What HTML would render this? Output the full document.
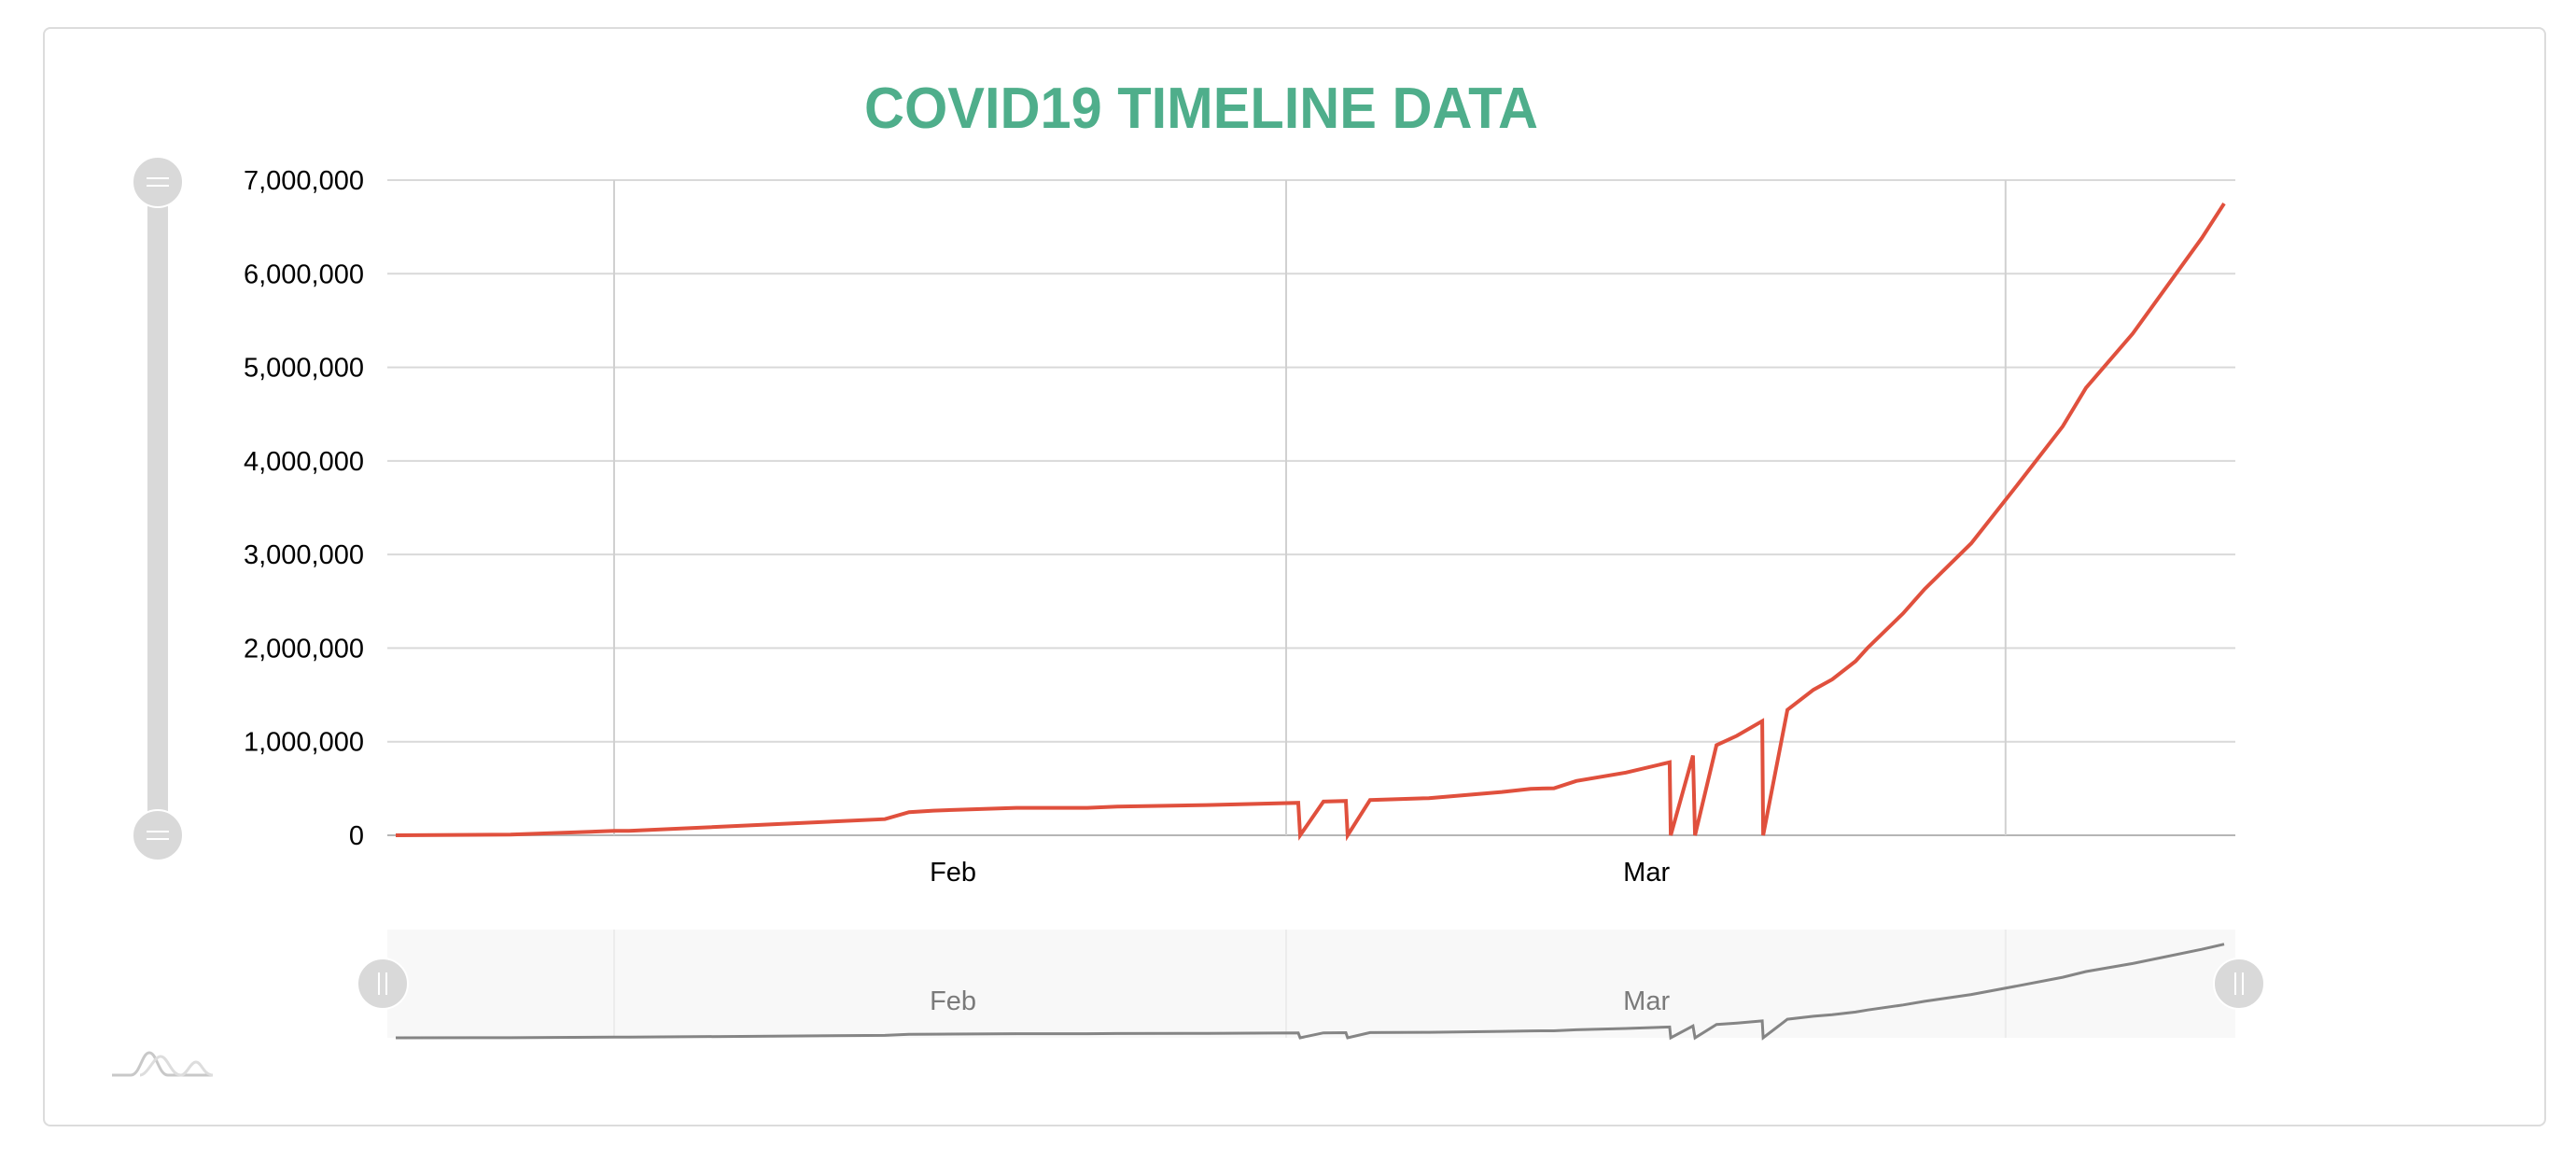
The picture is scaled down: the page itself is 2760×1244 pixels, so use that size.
<!DOCTYPE html>
<html><head><meta charset="utf-8"><style>
html,body{margin:0;padding:0;background:#fff;width:2760px;height:1244px;overflow:hidden}
svg{display:block;font-family:"Liberation Sans",sans-serif}
</style></head><body>
<svg id="chart" width="2760" height="1244" viewBox="0 0 2760 1244">
<rect x="47" y="30" width="2680" height="1176" rx="7" fill="#fff" stroke="#dcdcdc" stroke-width="2"/>
<text x="1287" y="137" text-anchor="middle" font-size="62" font-weight="bold" fill="#4fae8b" textLength="722" lengthAdjust="spacingAndGlyphs">COVID19 TIMELINE DATA</text>
<g id="grid"></g>
<g id="yaxis"></g>
<g id="xaxis"></g>
<g id="series"></g>
<g>
  <rect x="158" y="195" width="22" height="700" fill="#d9d9d9"/>
  <g>
    <circle cx="169" cy="195" r="27" fill="#d9d9d9" stroke="#fff" stroke-width="2"/>
    <line x1="157" y1="191" x2="181" y2="191" stroke="#fff" stroke-width="2"/>
    <line x1="157" y1="199" x2="181" y2="199" stroke="#fff" stroke-width="2"/>
  </g>
  <g>
    <circle cx="169" cy="895" r="27" fill="#d9d9d9" stroke="#fff" stroke-width="2"/>
    <line x1="157" y1="891" x2="181" y2="891" stroke="#fff" stroke-width="2"/>
    <line x1="157" y1="899" x2="181" y2="899" stroke="#fff" stroke-width="2"/>
  </g>
</g>
<g id="nav">
  <rect x="415" y="996" width="1980" height="116" fill="#f8f8f8"/>
</g>
<g fill="none" stroke-width="3">
  <path d="M120 1152 L140 1152 C150 1152 152 1128 160 1128 C168 1128 170 1152 180 1152 L228 1152" stroke="#c8c8c8"/>
  <path d="M150 1152 C158 1152 165 1132 172 1132 C180 1132 183 1152 194 1152 C200 1152 204 1138 210 1138 C216 1138 218 1152 228 1152" stroke="#ddd"/>
</g>
</svg>
<script>
// data: day offset from first date (Jan 22) and cumulative value
const days = [0,5.02,9.55,10.2,21.39,22.45,23.51,27.14,30.24,31.55,35.47,39.47,39.55,40.57,41.55,41.63,42.61,45.18,48.37,49.63,50.65,51.63,53.8,55.71,55.76,56.73,56.82,57.76,58.65,59.76,59.8,60.86,62.0,62.82,63.84,64.37,65.92,66.86,68.9,70.94,72.9,73.92,75.96,78.98,79.96];
const values = [0,7000,47000,47000,173000,247000,263000,293000,293000,307000,323000,347000,0,360000,367000,0,377000,397000,463000,497000,503000,580000,670000,780000,0,853000,0,963000,1063000,1220000,0,1340000,1555000,1665000,1860000,2003000,2370000,2630000,3120000,3750000,4370000,4780000,5360000,6380000,6750000];
const yTicks = [0,1000000,2000000,3000000,4000000,5000000,6000000,7000000];
const xGridDays = [9.55,38.94,70.4];
const monthLabels = ["Feb","Mar"];
const monthLabelDays = [24.37,54.7];

const NS="http://www.w3.org/2000/svg";
const X0=424, DAYPX=24.5, PL=415, PR=2395;
const xS=d=>X0+d*DAYPX;
const yS=v=>895-v*(702/7000000);
const nyS=v=>1112-v*(104/7000000);
function mk(tag,attrs,parent){const e=document.createElementNS(NS,tag);for(const k in attrs)e.setAttribute(k,attrs[k]);parent.appendChild(e);return e;}
const grid=document.getElementById('grid'),ya=document.getElementById('yaxis'),xa=document.getElementById('xaxis'),ser=document.getElementById('series'),nav=document.getElementById('nav');

yTicks.forEach(t=>{
  const l=mk('line',{x1:PL,x2:PR,y1:yS(t),y2:yS(t),stroke:t===0?'#b5b5b5':'#d9d9d9','stroke-width':2},grid);
  
  
  const tx=mk('text',{x:390,y:yS(t)+10,'text-anchor':'end','font-size':29,fill:'#000'},ya);
  tx.textContent=t.toLocaleString('en-US');
  
  
});
xGridDays.forEach(d=>{
  const l=mk('line',{x1:xS(d),x2:xS(d),y1:193,y2:895,stroke:'#d0d0d0','stroke-width':2},grid);
  
  
  const l2=mk('line',{x1:xS(d),x2:xS(d),y1:996,y2:1112,stroke:'#ececec','stroke-width':2},nav);
  
  
});
monthLabels.forEach((m,i)=>{
  const tx=mk('text',{x:xS(monthLabelDays[i]),y:944,'text-anchor':'middle','font-size':29,fill:'#000'},xa);
  tx.textContent=m;
  
  
  const t2=mk('text',{x:xS(monthLabelDays[i]),y:1082,'text-anchor':'middle','font-size':29,fill:'#7a7a7a'},nav);
  t2.textContent=m;
  
  
});
const pts=days.map((d,i)=>xS(d).toFixed(1)+','+yS(values[i]).toFixed(1)).join(' ');
const line=mk('polyline',{points:pts,fill:'none',stroke:'#e0503d','stroke-width':4,'stroke-linejoin':'miter'},ser);


const npts=days.map((d,i)=>xS(d).toFixed(1)+','+nyS(values[i]).toFixed(1)).join(' ');
const nl=mk('polyline',{points:npts,fill:'none',stroke:'#858585','stroke-width':3},nav);


[410,2399].forEach((cx,i)=>{
  const g=mk('g',{},nav);
  
  
  mk('circle',{cx:cx,cy:1054,r:27,fill:'#d9d9d9',stroke:'#fff','stroke-width':2},g);
  mk('line',{x1:cx-4,x2:cx-4,y1:1042,y2:1066,stroke:'#fff','stroke-width':2},g);
  mk('line',{x1:cx+4,x2:cx+4,y1:1042,y2:1066,stroke:'#fff','stroke-width':2},g);
});
</script>
</body></html>
